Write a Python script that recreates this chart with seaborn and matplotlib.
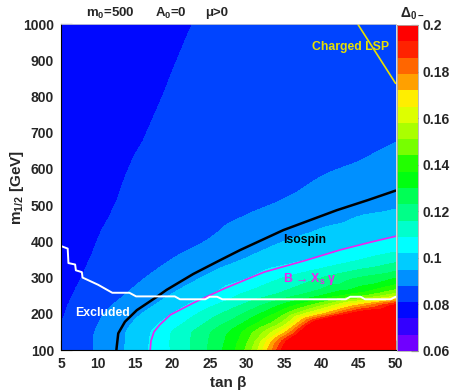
import numpy as np
import matplotlib
matplotlib.use("Agg")
import matplotlib.pyplot as plt
import matplotlib.tri as mtri
from matplotlib.colors import ListedColormap, BoundaryNorm
from matplotlib.cm import ScalarMappable
from matplotlib.ticker import MultipleLocator, FixedLocator
import seaborn as sns

# Isospin asymmetry Delta_0- over the (tan beta, m_1/2) plane, m_0 = 500 GeV, A_0 = 0, mu > 0
tan_beta = [5, 10, 15, 20, 25, 30, 35, 40, 45, 50]
m_half = [100, 125, 150, 175, 200, 225, 250, 300, 350, 400, 500, 600, 700, 800, 1000]
delta0 = [
    [0.0830, 0.0889, 0.0980, 0.1098, 0.1240, 0.1460, 0.1970, 0.2550, 0.3200, 0.3800],  # m = 100
    [0.0824, 0.0890, 0.0977, 0.1099, 0.1235, 0.1430, 0.1890, 0.2450, 0.3000, 0.3550],  # m = 125
    [0.0818, 0.0887, 0.0973, 0.1092, 0.1223, 0.1395, 0.1700, 0.2280, 0.2800, 0.3300],  # m = 150
    [0.0810, 0.0879, 0.0957, 0.1056, 0.1175, 0.1318, 0.1540, 0.2050, 0.2400, 0.2700],  # m = 175
    [0.0803, 0.0870, 0.0937, 0.1021, 0.1127, 0.1245, 0.1430, 0.1708, 0.2000, 0.2150],  # m = 200
    [0.0799, 0.0857, 0.0917, 0.0985, 0.1074, 0.1176, 0.1313, 0.1487, 0.1714, 0.1930],  # m = 225
    [0.0795, 0.0844, 0.0897, 0.0956, 0.1020, 0.1113, 0.1196, 0.1303, 0.1420, 0.1568],  # m = 250
    [0.0788, 0.0828, 0.0868, 0.0912, 0.0962, 0.1015, 0.1090, 0.1157, 0.1229, 0.1293],  # m = 300
    [0.0782, 0.0818, 0.0849, 0.0881, 0.0919, 0.0955, 0.0993, 0.1034, 0.1085, 0.1137],  # m = 350
    [0.0779, 0.0811, 0.0835, 0.0859, 0.0884, 0.0919, 0.0950, 0.0978, 0.1006, 0.1035],  # m = 400
    [0.0776, 0.0801, 0.0820, 0.0836, 0.0852, 0.0869, 0.0887, 0.0911, 0.0932, 0.0943],  # m = 500
    [0.0775, 0.0795, 0.0813, 0.0825, 0.0837, 0.0849, 0.0862, 0.0874, 0.0886, 0.0899],  # m = 600
    [0.0774, 0.0790, 0.0806, 0.0818, 0.0827, 0.0837, 0.0846, 0.0856, 0.0865, 0.0875],  # m = 700
    [0.0773, 0.0787, 0.0801, 0.0813, 0.0822, 0.0830, 0.0839, 0.0848, 0.0856, 0.0865],  # m = 800
    [0.0772, 0.0783, 0.0794, 0.0805, 0.0814, 0.0822, 0.0831, 0.0839, 0.0847, 0.0855],  # m = 1000
]

# Constraint curves
isospin_tb = [12.45, 12.5, 12.7, 13.6, 15.2, 17.9, 19.2, 22.8, 26.4, 29.1, 34.9, 42.1, 46.3, 50.0]
isospin_m = [100, 110, 146, 178, 210, 247, 266, 310, 348, 376, 431, 486, 514, 540]

bsg_tb = [17.0, 17.1, 17.5, 18.3, 19.7, 22.8, 27.0, 32.3, 38.0, 42.5, 46.3, 50.0]
bsg_m = [100, 125, 150, 170, 197, 230, 270, 315, 348, 376, 396, 414]

excl_tb = [5.0, 5.9, 6.0, 6.9, 7.0, 7.8, 7.9, 10.0, 11.9, 14.2, 15.1, 20.3, 21.0,
           24.4, 25.0, 26.0, 26.7, 43.3, 43.9, 45.3, 45.9, 49.3, 50.0]
excl_m = [387, 380, 340, 336, 320, 315, 300, 280, 258, 258, 248, 248, 240,
          240, 247, 247, 240, 240, 247, 247, 240, 240, 247]

lsp_tb = [44.9, 50.0]
lsp_m = [1000, 836]

# Colour scale: 20 bands from 0.06 to 0.2
z_min, z_max, n_bands = 0.06, 0.20, 20
band_colors = ["#7000ff", "#3300ff", "#0008ff", "#0044ff", "#0090ff",
               "#00ccff", "#00ffff", "#00ffcc", "#00ff88", "#00ff55",
               "#00ff10", "#22ff00", "#77ff00", "#aaff00", "#ddff00",
               "#ffee00", "#ffa000", "#ff6600", "#ff2200", "#ff0000"]
cbar_ticks = [0.06, 0.08, 0.10, 0.12, 0.14, 0.16, 0.18, 0.20]
cbar_labels = ["0.06", "0.08", "0.1", "0.12", "0.14", "0.16", "0.18", "0.2"]

sns.set_theme(style="white")
plt.rcParams["font.family"] = ["Liberation Sans", "DejaVu Sans"]
plt.rcParams["font.weight"] = "bold"
plt.rcParams["mathtext.fontset"] = "custom"
plt.rcParams["mathtext.rm"] = "Liberation Sans:bold"
plt.rcParams["mathtext.bf"] = "Liberation Sans:bold"
plt.rcParams["mathtext.it"] = "Liberation Sans:bold"
plt.rcParams["mathtext.default"] = "bf"

cmap = ListedColormap(band_colors)
cmap.set_over(band_colors[-1])
cmap.set_under(band_colors[0])
levels = np.linspace(z_min, z_max, n_bands + 1)
norm = BoundaryNorm(levels, cmap.N)

fig = plt.figure(figsize=(4.51, 3.92), dpi=100)
ax = fig.add_axes([61 / 451, 1 - 350 / 392, 334.6 / 451, 326 / 392])
cax = fig.add_axes([397 / 451, 1 - 351 / 392, 21 / 451, 326 / 392])

# smooth filled contours: triangulate the grid in unit coordinates and refine it
T, M = np.meshgrid(tan_beta, m_half)
Z = np.array(delta0).ravel()
tri_unit = mtri.Triangulation((T.ravel() - 5) / 45, (M.ravel() - 100) / 900)
interp = mtri.CubicTriInterpolator(tri_unit, Z, kind="geom")
tri_fine, z_fine = mtri.UniformTriRefiner(tri_unit).refine_field(
    Z, triinterpolator=interp, subdiv=4)
tri_data = mtri.Triangulation(tri_fine.x * 45 + 5, tri_fine.y * 900 + 100,
                              tri_fine.triangles)
ax.tricontourf(tri_data, z_fine, levels=levels, cmap=cmap, norm=norm, extend="both")

sns.lineplot(x=isospin_tb, y=isospin_m, sort=False, estimator=None,
             color="black", lw=1.8, ax=ax)
sns.lineplot(x=bsg_tb, y=bsg_m, sort=False, estimator=None,
             color="#ee22ee", lw=1.2, ax=ax)
sns.lineplot(x=excl_tb, y=excl_m, sort=False, estimator=None,
             color="white", lw=1.4, ax=ax)
sns.lineplot(x=lsp_tb, y=lsp_m, sort=False, estimator=None,
             color="#e8e000", lw=1.2, ax=ax)

ax.text(37.7, 405, "Isospin", color="black", fontsize=8.8, ha="center", va="center")
ax.text(34.9, 296, r"B → X$_{s}$ γ", color="#ee22ee", fontsize=8.8, ha="left", va="center")
ax.text(6.9, 202, "Excluded", color="white", fontsize=8.8, ha="left", va="center")
ax.text(38.7, 937, "Charged LSP", color="#e8e000", fontsize=8.8, ha="left", va="center")

ax.set_xlim(5, 50)
ax.set_ylim(100, 1000)
ax.xaxis.set_major_locator(MultipleLocator(5))
ax.xaxis.set_minor_locator(MultipleLocator(1))
ax.yaxis.set_major_locator(MultipleLocator(100))
ax.yaxis.set_minor_locator(MultipleLocator(20))
ax.tick_params(which="both", direction="in", color="black", width=0.8,
               bottom=True, left=True, top=False, right=False, labelsize=10)
ax.tick_params(axis="y", which="major", length=8, pad=5)
ax.tick_params(axis="y", which="minor", length=4)
ax.tick_params(axis="x", which="major", length=7, pad=5)
ax.tick_params(axis="x", which="minor", length=3.5)
for lab in ax.get_xticklabels() + ax.get_yticklabels():
    lab.set_fontweight("bold")

ax.set_xlabel("tan β", fontsize=11, fontweight="bold", va="center")
ax.set_ylabel(r"m$_{1/2}$ [GeV]", fontsize=11, fontweight="bold", va="center")
ax.xaxis.set_label_coords(0.5, -0.101)
ax.yaxis.set_label_coords(-0.1315, 0.5)

for side in ("left", "bottom"):
    ax.spines[side].set_color("black")
    ax.spines[side].set_linewidth(0.8)
for side in ("top", "right"):
    ax.spines[side].set_color("#d0d0d0")
    ax.spines[side].set_linewidth(0.6)

cb = fig.colorbar(ScalarMappable(norm=norm, cmap=cmap), cax=cax)
cb.set_ticks(cbar_ticks)
cb.set_ticklabels(cbar_labels)
cb.outline.set_edgecolor("#b0b0b0")
cb.outline.set_linewidth(0.6)
cax.yaxis.set_minor_locator(FixedLocator([]))
cax.tick_params(axis="y", direction="in", length=5, width=0.8, color="black",
                right=True, left=False, labelright=True, labelsize=10, pad=3)
for lab in cax.get_yticklabels():
    lab.set_fontweight("bold")

fig.text(86 / 451, 1 - 13 / 392, r"m$_{0}$=500", fontsize=9.5, fontweight="bold",
         ha="left", va="center")
fig.text(155 / 451, 1 - 13 / 392, r"A$_{0}$=0", fontsize=9.5, fontweight="bold",
         ha="left", va="center")
fig.text(205 / 451, 1 - 13 / 392, "μ>0", fontsize=9.5, fontweight="bold",
         ha="left", va="center")
fig.text(400 / 451, 1 - 14 / 392, r"Δ$_{0-}$", fontsize=10, fontweight="bold",
         ha="left", va="center")

fig.savefig("out.png", dpi=100)
